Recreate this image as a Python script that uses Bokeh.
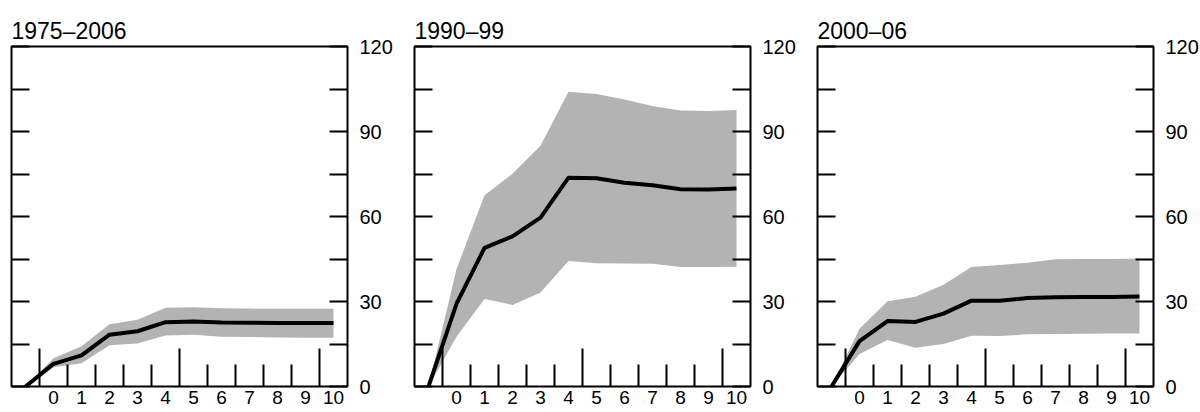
from bokeh.plotting import figure
from bokeh.layouts import row
from bokeh.models import Range1d, LinearAxis, FixedTicker, ColumnDataSource
from bokeh.embed import file_html
from bokeh.resources import INLINE

# ---------------- data ----------------
titles = ["1975–2006", "1990–99", "2000–06"]
steps = [-1, 0, 1, 2, 3, 4, 5, 6, 7, 8, 9, 10]
x_labels = [0, 1, 2, 3, 4, 5, 6, 7, 8, 9, 10]
y_major = [0, 30, 60, 90, 120]
y_minor = [15, 45, 75, 105]

mid_1975 = [0, 8.0, 11.0, 18.3, 19.5, 22.7, 22.9, 22.6, 22.5, 22.4, 22.4, 22.4]
upper_1975 = [0, 10.0, 14.2, 22.0, 23.6, 27.8, 28.0, 27.6, 27.5, 27.4, 27.4, 27.4]
lower_1975 = [0, 6.8, 8.2, 14.6, 15.2, 18.0, 18.3, 17.6, 17.5, 17.3, 17.2, 17.2]

mid_1990 = [0, 29.2, 48.9, 53.0, 59.6, 73.7, 73.5, 71.9, 71.0, 69.6, 69.5, 69.9]
upper_1990 = [0, 41.4, 67.5, 75.1, 85.0, 104.0, 103.2, 101.3, 99.0, 97.4, 97.2, 97.6]
lower_1990 = [0, 17.6, 30.9, 28.8, 33.2, 44.3, 43.5, 43.4, 43.3, 42.2, 42.2, 42.3]

mid_2000 = [0, 16.0, 23.1, 22.8, 25.7, 30.3, 30.3, 31.2, 31.5, 31.6, 31.6, 31.8]
upper_2000 = [0, 20.4, 30.1, 31.7, 35.9, 42.2, 42.9, 43.7, 44.9, 45.0, 45.0, 45.2]
lower_2000 = [0, 11.5, 16.4, 13.7, 15.0, 17.9, 17.8, 18.4, 18.5, 18.6, 18.7, 18.7]

series = [
    (mid_1975, upper_1975, lower_1975),
    (mid_1990, upper_1990, lower_1990),
    (mid_2000, upper_2000, lower_2000),
]

# ---------------- style ----------------
FONT = "Liberation Sans"
FRAME_W = 336
FRAME_H = 340
TICK_Y = 18
TICK_X_SHORT = 22
TICK_X_LONG = 38
BAND = "#b3b3b3"

x_tick_pos = [v - 0.5 for v in x_labels]
long_every = 5


def make_panel(i):
    mid, up, lo = series[i]
    p = figure(frame_width=FRAME_W, frame_height=FRAME_H,
               x_range=Range1d(steps[0] - 0.5, x_labels[-1] + 0.5),
               y_range=Range1d(y_major[0], y_major[-1]),
               output_backend="svg", toolbar_location=None,
               x_axis_location=None, y_axis_location=None,
               min_border_left=11, min_border_right=(56 if i < 2 else 0),
               min_border_top=46, min_border_bottom=0)
    p.grid.visible = False
    p.outline_line_color = "black"
    p.outline_line_width = 2
    p.background_fill_color = "white"
    p.border_fill_color = "white"

    p.title.text = titles[i]
    p.title.text_font = FONT
    p.title.text_font_size = "23px"
    p.title.text_font_style = "normal"
    p.title.text_color = "black"
    p.title.align = "left"
    p.title.offset = 0
    p.title.standoff = 5

    src = ColumnDataSource(dict(x=steps, mid=mid, up=up, lo=lo))
    p.varea(x="x", y1="lo", y2="up", source=src, fill_color=BAND, fill_alpha=1)
    p.line(x="x", y="mid", source=src, line_color="black", line_width=4)

    # x tick marks (inward) between labels
    p.extra_y_ranges = {"px": Range1d(0, FRAME_H)}
    lens = [TICK_X_LONG if k % long_every == 0 else TICK_X_SHORT for k in range(len(x_tick_pos))]
    tsrc = ColumnDataSource(dict(x=x_tick_pos, y0=[0] * len(x_tick_pos), y1=lens))
    p.segment(x0="x", y0="y0", x1="x", y1="y1", source=tsrc, y_range_name="px",
              line_color="black", line_width=2)

    # left axis: ticks only
    la = LinearAxis(ticker=FixedTicker(ticks=sorted(y_major + y_minor)),
                    major_tick_in=TICK_Y, major_tick_out=0,
                    major_tick_line_width=2, major_tick_line_color="black",
                    minor_tick_line_color=None,
                    axis_line_color=None, major_label_standoff=0,
                    major_label_overrides={v: "" for v in y_major + y_minor})
    p.add_layout(la, "left")

    # right axis: labels every 30
    ra = LinearAxis(ticker=FixedTicker(ticks=y_major, minor_ticks=y_minor),
                    major_tick_in=TICK_Y, major_tick_out=0,
                    minor_tick_in=TICK_Y, minor_tick_out=0,
                    major_tick_line_width=2, minor_tick_line_width=2,
                    major_tick_line_color="black", minor_tick_line_color="black",
                    axis_line_color=None, major_label_standoff=12,
                    major_label_text_font=FONT, major_label_text_font_size="20px",
                    major_label_text_color="black")
    p.add_layout(ra, "right")

    # bottom axis: labels only
    ba = LinearAxis(ticker=FixedTicker(ticks=x_labels),
                    major_tick_in=0, major_tick_out=0,
                    minor_tick_line_color=None, major_tick_line_color=None,
                    axis_line_color=None, major_label_standoff=4,
                    major_label_text_font=FONT, major_label_text_font_size="19px",
                    major_label_text_color="black")
    p.add_layout(ba, "below")
    return p


panels = [make_panel(i) for i in range(3)]
layout = row(*panels)
open("out.html", "w").write(file_html(layout, INLINE))
